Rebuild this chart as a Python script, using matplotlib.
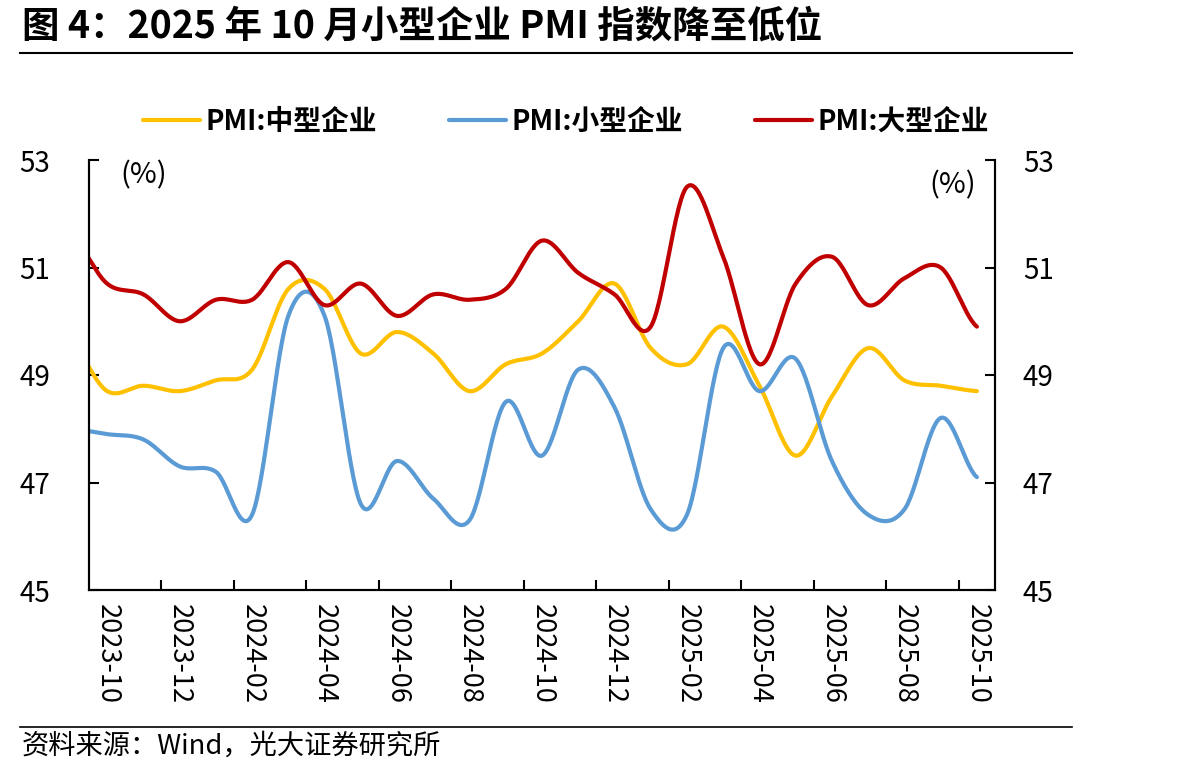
import numpy as np
import matplotlib
matplotlib.use("Agg")
import matplotlib.pyplot as plt
from matplotlib.lines import Line2D

plt.rcParams['font.family'] = ['Noto Sans CJK SC', 'DejaVu Sans']

months = ["2023-09", "2023-10", "2023-11", "2023-12",
          "2024-01", "2024-02", "2024-03", "2024-04", "2024-05", "2024-06",
          "2024-07", "2024-08", "2024-09", "2024-10", "2024-11", "2024-12",
          "2025-01", "2025-02", "2025-03", "2025-04", "2025-05", "2025-06",
          "2025-07", "2025-08", "2025-09", "2025-10"]
pmi_medium = [49.6, 48.7, 48.8, 48.7, 48.9, 49.1, 50.6, 50.6, 49.4, 49.8,
              49.4, 48.7, 49.2, 49.4, 50.0, 50.7, 49.5, 49.2, 49.9, 48.8,
              47.5, 48.6, 49.5, 48.9, 48.8, 48.7]
pmi_small = [48.0, 47.9, 47.8, 47.3, 47.2, 46.4, 50.1, 50.1, 46.6, 47.4,
             46.7, 46.3, 48.5, 47.5, 49.1, 48.4, 46.5, 46.4, 49.5, 48.7,
             49.3, 47.4, 46.4, 46.5, 48.2, 47.1]
pmi_large = [51.6, 50.7, 50.5, 50.0, 50.4, 50.4, 51.1, 50.3, 50.7, 50.1,
             50.5, 50.4, 50.6, 51.5, 50.9, 50.5, 49.9, 52.5, 51.2, 49.2,
             50.7, 51.2, 50.3, 50.8, 51.0, 49.9]
series_names = ["PMI:中型企业", "PMI:小型企业", "PMI:大型企业"]
colors = ["#FFC000", "#5B9BD5", "#C00000"]
yticks = [45, 47, 49, 51, 53]
first_label = "2023-10"


def smooth(x, y, n=30):
    """Excel-like smoothed line (Catmull-Rom / cardinal Bezier)."""
    x = np.asarray(x, float)
    y = np.asarray(y, float)
    m = len(y)
    ys = np.concatenate([[y[0]], y, [y[-1]]])
    xs_out, ys_out = [], []
    for i in range(m - 1):
        p0, p1, p2, p3 = ys[i], ys[i + 1], ys[i + 2], ys[i + 3]
        m1 = (p2 - p0) / 2.0
        m2 = (p3 - p1) / 2.0
        t = np.linspace(0, 1, n, endpoint=(i == m - 2))
        h00 = 2 * t**3 - 3 * t**2 + 1
        h10 = t**3 - 2 * t**2 + t
        h01 = -2 * t**3 + 3 * t**2
        h11 = t**3 - t**2
        ys_out.append(h00 * p1 + h10 * m1 + h01 * p2 + h11 * m2)
        xs_out.append(x[i] + (x[i + 1] - x[i]) * t)
    return np.concatenate(xs_out), np.concatenate(ys_out)


W, H = 1180, 774
fig = plt.figure(figsize=(W / 100, H / 100), dpi=100)
L, R, T, B = 89, 995, 160, 590
ax = fig.add_axes([L / W, 1 - B / H, (R - L) / W, (B - T) / H])

start = months.index(first_label)
x = np.arange(len(months)) - start

for vals, col, name in zip([pmi_medium, pmi_small, pmi_large], colors, series_names):
    xs, ys = smooth(x, vals)
    ax.plot(xs, ys, color=col, lw=3.0, label=name, solid_capstyle='round')

n_vis = len(months) - start
ax.set_xlim(-0.5, n_vis - 0.5)
ax.set_ylim(45, 53)
ax.set_yticks(yticks)
ax.set_yticklabels([str(v) for v in yticks])

lab_pos = np.arange(0, n_vis, 2)
ax.set_xticks(lab_pos)
ax.set_xticklabels([months[start + int(i)] for i in lab_pos], rotation=-90, fontsize=19.5)
ax.set_xticks(np.arange(1.5, n_vis - 1, 2), minor=True)
ax.tick_params(axis='x', which='major', length=0, pad=10)
ax.tick_params(axis='x', which='minor', length=7, width=1.5, direction='in')
ax.tick_params(axis='y', which='major', length=7, width=1.5, direction='in',
               labelsize=20, pad=28)

ax2 = ax.twinx()
ax2.set_ylim(45, 53)
ax2.set_yticks(yticks)
ax2.set_yticklabels([str(v) for v in yticks])
ax2.tick_params(axis='y', which='major', length=7, width=1.5, direction='in',
                labelsize=20, pad=20)

for a in (ax, ax2):
    for s in a.spines.values():
        s.set_linewidth(1.5)
    a.spines['top'].set_visible(False)

fig.text(120 / W, 1 - 175 / H, "(%)", fontsize=21, va='center', ha='left')
fig.text(976 / W, 1 - 185 / H, "(%)", fontsize=21, va='center', ha='right')

fig.legend(handles=ax.get_lines(), labels=series_names, loc='center',
           bbox_to_anchor=(566 / W, 1 - 122 / H), ncol=3, frameon=False,
           prop={'size': 20, 'weight': 'bold'}, handlelength=2.05,
           handletextpad=0.2, columnspacing=2.6)

fig.text(22 / W, 1 - 26 / H, "图 4：2025 年 10 月小型企业 PMI 指数降至低位",
         fontsize=27, fontweight='bold', va='center', ha='left')
fig.add_artist(Line2D([20 / W, 1072 / W], [1 - 53 / H] * 2, color='black', lw=1.5))
fig.add_artist(Line2D([20 / W, 1072 / W], [1 - 727 / H] * 2, color='black', lw=1.2))
fig.text(22 / W, 1 - 746 / H, "资料来源：Wind，光大证券研究所", fontsize=19.6,
         va='center', ha='left')

fig.savefig("out.png", dpi=100)
